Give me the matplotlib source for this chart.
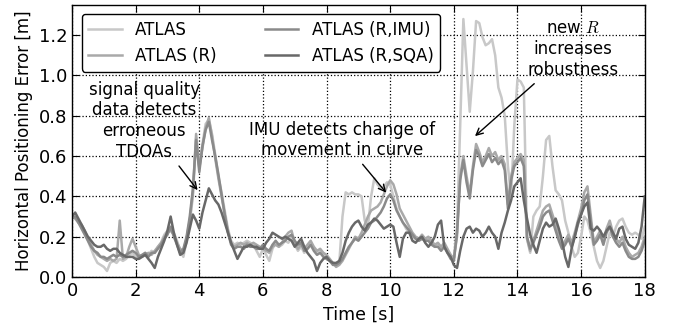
import numpy as np
import matplotlib
matplotlib.use("Agg")
import matplotlib.pyplot as plt

plt.rcParams["mathtext.fontset"] = "cm"

# sampling grid of the recordings, 0.1 s
time_s = np.round(np.arange(0, 18.05, 0.1), 1)

err_atlas = [
    0.30, 0.29, 0.27, 0.25, 0.22, 0.18, 0.14, 0.10, 0.07, 0.06,
    0.05, 0.03, 0.07, 0.08, 0.07, 0.09, 0.08, 0.09, 0.11, 0.12,
    0.10, 0.09, 0.10, 0.12, 0.11, 0.13, 0.12, 0.15, 0.17, 0.21,
    0.23, 0.24, 0.22, 0.18, 0.13, 0.10, 0.18, 0.27, 0.40, 0.69,
    0.55, 0.66, 0.76, 0.78, 0.71, 0.61, 0.50, 0.42, 0.33, 0.24,
    0.18, 0.16, 0.17, 0.16, 0.17, 0.18, 0.17, 0.16, 0.13, 0.10,
    0.14, 0.11, 0.08, 0.14, 0.17, 0.15, 0.16, 0.18, 0.17, 0.20,
    0.16, 0.13, 0.15, 0.12, 0.14, 0.16, 0.14, 0.12, 0.13, 0.11,
    0.10, 0.08, 0.07, 0.06, 0.07, 0.30, 0.42, 0.41, 0.42, 0.41,
    0.41, 0.40, 0.28, 0.25, 0.40, 0.49, 0.46, 0.44, 0.45, 0.47,
    0.46, 0.40, 0.34, 0.30, 0.27, 0.24, 0.22, 0.20, 0.19, 0.18,
    0.19, 0.18, 0.19, 0.17, 0.15, 0.16, 0.14, 0.16, 0.13, 0.11,
    0.09, 0.25, 0.75, 1.28, 1.05, 0.82, 1.02, 1.27, 1.26, 1.19,
    1.15, 1.16, 1.18, 1.10, 0.94, 0.89, 0.80, 0.55, 0.40, 0.75,
    0.98, 0.97, 0.94, 0.19, 0.12, 0.30, 0.33, 0.35, 0.50, 0.68,
    0.70, 0.55, 0.43, 0.41, 0.38, 0.28, 0.22, 0.15, 0.10, 0.12,
    0.20, 0.30, 0.28, 0.22, 0.15, 0.08, 0.045, 0.08, 0.15, 0.22,
    0.20, 0.25, 0.28, 0.29, 0.25, 0.22, 0.21, 0.22, 0.21, 0.19,
    0.25,
]

err_atlas_r = [
    0.31, 0.29, 0.27, 0.26, 0.23, 0.19, 0.16, 0.13, 0.11, 0.10,
    0.09, 0.08, 0.09, 0.08, 0.09, 0.28, 0.09, 0.10, 0.15, 0.19,
    0.15, 0.11, 0.10, 0.11, 0.12, 0.11, 0.13, 0.15, 0.17, 0.20,
    0.22, 0.23, 0.21, 0.17, 0.14, 0.13, 0.19, 0.28, 0.42, 0.71,
    0.54, 0.64, 0.74, 0.79, 0.70, 0.59, 0.49, 0.40, 0.31, 0.23,
    0.17, 0.15, 0.16, 0.17, 0.16, 0.17, 0.16, 0.17, 0.16, 0.15,
    0.14, 0.13, 0.12, 0.15, 0.16, 0.15, 0.17, 0.20, 0.22, 0.23,
    0.17, 0.14, 0.16, 0.14, 0.16, 0.18, 0.15, 0.13, 0.14, 0.12,
    0.11, 0.09, 0.07, 0.05, 0.06, 0.08, 0.11, 0.14, 0.17, 0.20,
    0.19, 0.22, 0.26, 0.30, 0.33, 0.34, 0.35, 0.37, 0.41, 0.45,
    0.48, 0.46, 0.41, 0.34, 0.31, 0.28, 0.25, 0.22, 0.20, 0.19,
    0.21, 0.19, 0.20, 0.18, 0.16, 0.17, 0.15, 0.17, 0.14, 0.11,
    0.09, 0.20, 0.50, 0.60, 0.50, 0.41, 0.55, 0.66, 0.62, 0.57,
    0.60, 0.64, 0.60, 0.62, 0.58, 0.60, 0.56, 0.36, 0.50, 0.57,
    0.59, 0.61, 0.58, 0.19, 0.13, 0.18, 0.23, 0.28, 0.33, 0.35,
    0.36, 0.31, 0.26, 0.20, 0.15, 0.18, 0.21, 0.17, 0.22, 0.28,
    0.34, 0.42, 0.45, 0.31, 0.17, 0.20, 0.23, 0.18, 0.24, 0.28,
    0.22, 0.19, 0.17, 0.20, 0.15, 0.12, 0.10, 0.11, 0.12, 0.15,
    0.20,
]

err_atlas_r_imu = [
    0.29, 0.30, 0.27, 0.24, 0.21, 0.18, 0.15, 0.13, 0.12, 0.10,
    0.10, 0.09, 0.10, 0.11, 0.10, 0.11, 0.10, 0.11, 0.12, 0.13,
    0.12, 0.10, 0.11, 0.12, 0.10, 0.12, 0.12, 0.14, 0.16, 0.19,
    0.21, 0.25, 0.20, 0.16, 0.12, 0.14, 0.20, 0.30, 0.44, 0.68,
    0.52, 0.65, 0.73, 0.77, 0.68, 0.60, 0.51, 0.41, 0.31, 0.22,
    0.16, 0.14, 0.15, 0.15, 0.14, 0.16, 0.15, 0.15, 0.14, 0.14,
    0.16, 0.14, 0.13, 0.16, 0.18, 0.16, 0.17, 0.18, 0.20, 0.21,
    0.18, 0.16, 0.17, 0.13, 0.14, 0.16, 0.13, 0.11, 0.12, 0.10,
    0.09, 0.08, 0.06, 0.06, 0.07, 0.09, 0.12, 0.15, 0.17, 0.19,
    0.18, 0.20, 0.22, 0.24, 0.27, 0.28, 0.30, 0.32, 0.35, 0.39,
    0.41, 0.38, 0.33, 0.30, 0.27, 0.25, 0.23, 0.21, 0.19, 0.18,
    0.19, 0.18, 0.18, 0.16, 0.15, 0.15, 0.13, 0.15, 0.12, 0.09,
    0.08, 0.22, 0.48, 0.58, 0.47, 0.39, 0.53, 0.63, 0.60, 0.55,
    0.58, 0.61, 0.57, 0.59, 0.56, 0.58, 0.53, 0.34, 0.48, 0.55,
    0.57, 0.59, 0.55, 0.20, 0.14, 0.17, 0.21, 0.25, 0.30, 0.32,
    0.33, 0.28, 0.23, 0.18, 0.14, 0.16, 0.19, 0.15, 0.20, 0.26,
    0.31, 0.38, 0.41, 0.28, 0.16, 0.18, 0.21, 0.16, 0.22, 0.25,
    0.20, 0.17, 0.15, 0.17, 0.13, 0.10, 0.09, 0.09, 0.10, 0.13,
    0.18,
]

err_atlas_r_sqa = [
    0.30, 0.32, 0.29, 0.26, 0.23, 0.20, 0.18, 0.16, 0.15, 0.15,
    0.16, 0.14, 0.13, 0.14, 0.14, 0.12, 0.11, 0.10, 0.10, 0.10,
    0.09, 0.09, 0.10, 0.11, 0.09, 0.07, 0.045, 0.10, 0.14, 0.18,
    0.23, 0.30, 0.22, 0.16, 0.11, 0.12, 0.17, 0.24, 0.31, 0.28,
    0.24, 0.32, 0.38, 0.44, 0.41, 0.38, 0.36, 0.32, 0.27, 0.22,
    0.17, 0.13, 0.09, 0.12, 0.15, 0.15, 0.16, 0.15, 0.15, 0.14,
    0.14, 0.17, 0.19, 0.22, 0.21, 0.20, 0.19, 0.20, 0.19, 0.18,
    0.15, 0.17, 0.19, 0.15, 0.12, 0.10, 0.08, 0.03, 0.07, 0.09,
    0.10, 0.08, 0.07, 0.07, 0.08, 0.12, 0.18, 0.22, 0.25, 0.27,
    0.28, 0.25, 0.23, 0.26, 0.27, 0.29, 0.28, 0.26, 0.24, 0.25,
    0.26, 0.25, 0.17, 0.10, 0.19, 0.22, 0.22, 0.18, 0.17, 0.19,
    0.20, 0.17, 0.15, 0.17, 0.20, 0.26, 0.28, 0.15, 0.12, 0.10,
    0.06, 0.045, 0.13, 0.20, 0.24, 0.25, 0.22, 0.24, 0.23, 0.20,
    0.22, 0.25, 0.22, 0.20, 0.14, 0.22, 0.27, 0.33, 0.38, 0.45,
    0.47, 0.49, 0.38, 0.29, 0.21, 0.16, 0.12, 0.18, 0.24, 0.27,
    0.25, 0.26, 0.29, 0.24, 0.18, 0.10, 0.05, 0.14, 0.20, 0.27,
    0.31, 0.35, 0.37, 0.24, 0.23, 0.25, 0.23, 0.20, 0.23, 0.25,
    0.22, 0.19, 0.24, 0.25, 0.19, 0.16, 0.15, 0.14, 0.17, 0.25,
    0.40,
]

series = [
    ("ATLAS", err_atlas, "#c8c8c8"),
    ("ATLAS (R)", err_atlas_r, "#a9a9a9"),
    ("ATLAS (R,IMU)", err_atlas_r_imu, "#8a8a8a"),
    ("ATLAS (R,SQA)", err_atlas_r_sqa, "#686868"),
]

fig = plt.figure(figsize=(6.73, 3.29), dpi=100)
ax = fig.add_axes([0.107, 0.158, 0.851, 0.827])

for name, vals, col in series:
    ax.plot(time_s, vals, color=col, lw=1.8, label=name)

ax.set_xlim(0, 18)
ax.set_ylim(0, 1.35)
ax.set_xticks(np.arange(0, 19, 2))
ax.set_yticks(np.arange(0, 1.3, 0.2))
ax.tick_params(direction="in", top=True, right=True, labelsize=13, length=5)
ax.grid(True, color="black", linestyle=":", linewidth=0.9)
for sp in ax.spines.values():
    sp.set_linewidth(1.0)

ax.set_xlabel("Time [s]", fontsize=12.5)
ax.set_ylabel("Horizontal Positioning Error [m]", fontsize=12)

leg = ax.legend(loc="upper left", bbox_to_anchor=(0.017, 0.967), borderaxespad=0,
                ncol=2, fontsize=12, fancybox=True, framealpha=1,
                handlelength=2.0, columnspacing=2.9)
leg.get_frame().set_edgecolor("black")
leg.get_frame().set_linewidth(1.0)

arrow = dict(arrowstyle="->", color="black", lw=1)
ax.annotate("signal quality\ndata detects\nerroneous\nTDOAs", xy=(4.0, 0.42), xytext=(2.27, 0.775),
            ha="center", va="center", fontsize=12, arrowprops=arrow)
ax.annotate("IMU detects change of\nmovement in curve", xy=(9.93, 0.408), xytext=(8.5, 0.68),
            ha="center", va="center", fontsize=12, arrowprops=arrow)
ax.annotate("new $R$\nincreases\nrobustness", xy=(12.6, 0.69), xytext=(15.75, 1.13),
            ha="center", va="center", fontsize=12, arrowprops=arrow)

fig.savefig("out.png", dpi=100)
